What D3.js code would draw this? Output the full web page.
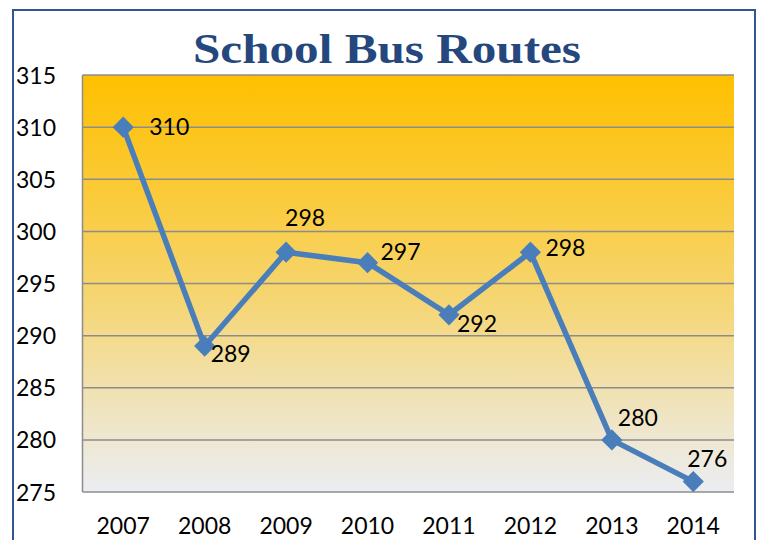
<!DOCTYPE html>
<html>
<head>
<meta charset="utf-8">
<script src="https://cdn.jsdelivr.net/npm/d3@7"></script>
<style>
  html, body { margin: 0; padding: 0; background: #fff; }
  svg { display: block; }
</style>
</head>
<body>
<div id="chart"></div>
<script>
// School bus routes per year.
const years = ['2007', '2008', '2009', '2010', '2011', '2012', '2013', '2014'];
const routes = [310, 289, 298, 297, 292, 298, 280, 276];
const yTicks = [275, 280, 285, 290, 295, 300, 305, 310, 315];

(function(){
  const width = 758, height = 540;
  const margin = {top: 75, right: 24, bottom: 48, left: 82.5};

  // Hand-tuned nudges for the value labels (start of text, vertical centre).
  const labelNudge = [[26, 0], [6, 8], [-1, -34], [13, -11], [8, 9], [15, -4], [6, -22], [-6, -23]];

  const svg = d3.select('#chart').append('svg')
    .attr('width', width).attr('height', height);

  // Gradient fill for the plot area, orange at the top fading to grey.
  const grad = svg.append('defs').append('linearGradient')
    .attr('id', 'plotFill').attr('x1', 0).attr('y1', 0).attr('x2', 0).attr('y2', 1);
  [[0, '#FFC000'], [0.3, '#FACB3C'], [0.55, '#F5D676'], [0.8, '#F0E4BE'], [1, '#EBEDF3']]
    .forEach(([o, c]) => grad.append('stop').attr('offset', o).attr('stop-color', c));

  // Outer chart border.
  svg.append('rect')
    .attr('x', 13).attr('y', 10).attr('width', 742).attr('height', 540)
    .attr('fill', 'none').attr('stroke', '#2F5597').attr('stroke-width', 2);

  const x = d3.scaleBand().domain(years)
    .range([margin.left, width - margin.right]);
  const y = d3.scaleLinear().domain([275, 315])
    .range([height - margin.bottom, margin.top]);

  const plotW = x.range()[1] - x.range()[0];
  const plotH = y.range()[0] - y.range()[1];

  svg.append('rect')
    .attr('x', margin.left).attr('y', margin.top)
    .attr('width', plotW).attr('height', plotH)
    .attr('fill', 'url(#plotFill)');

  // Horizontal gridlines.
  svg.append('g').selectAll('line').data(yTicks).join('line')
    .attr('x1', margin.left).attr('x2', margin.left + plotW)
    .attr('y1', d => y(d)).attr('y2', d => y(d))
    .attr('stroke', '#8C8C8C').attr('stroke-width', 1.5);

  // Left axis line.
  svg.append('line')
    .attr('x1', margin.left).attr('x2', margin.left)
    .attr('y1', margin.top).attr('y2', y(275))
    .attr('stroke', '#8C8C8C').attr('stroke-width', 1.5);

  const font = 'Lato, "Open Sans", sans-serif';
  const fs = 23;

  // Y tick labels, left-aligned against the border.
  svg.append('g').selectAll('text').data(yTicks).join('text')
    .attr('x', 16).attr('y', d => y(d) + 0.5).attr('dy', '0.35em')
    .attr('font-family', font).attr('font-size', fs).attr('fill', '#000')
    .text(d => d);

  // X tick labels.
  svg.append('g').selectAll('text').data(years).join('text')
    .attr('x', d => x(d) + x.bandwidth() / 2).attr('y', 526).attr('dy', '0.35em')
    .attr('text-anchor', 'middle')
    .attr('font-family', font).attr('font-size', fs).attr('fill', '#000')
    .text(d => d);

  // Title.
  svg.append('text')
    .attr('x', 387).attr('y', 63).attr('text-anchor', 'middle')
    .attr('font-family', '"Liberation Serif", "DejaVu Serif", serif')
    .attr('font-weight', 'bold').attr('font-size', 43)
    .attr('fill', '#24487D')
    .attr('textLength', 388).attr('lengthAdjust', 'spacingAndGlyphs')
    .text('School Bus Routes');

  const pts = years.map((yr, i) => ({yr, v: routes[i], nudge: labelNudge[i]}));
  const cx = d => x(d.yr) + x.bandwidth() / 2;

  svg.append('path').datum(pts)
    .attr('d', d3.line().x(cx).y(d => y(d.v)))
    .attr('fill', 'none').attr('stroke', '#4A7EBB').attr('stroke-width', 5.5)
    .attr('stroke-linejoin', 'round');

  svg.append('g').selectAll('path').data(pts).join('path')
    .attr('transform', d => `translate(${cx(d)},${y(d.v)}) rotate(45)`)
    .attr('d', 'M-7.5,-7.5H7.5V7.5H-7.5Z')
    .attr('fill', '#4A7EBB');

  // Value labels.
  svg.append('g').selectAll('text').data(pts).join('text')
    .attr('x', d => cx(d) + d.nudge[0])
    .attr('y', d => y(d.v) + d.nudge[1])
    .attr('dy', '0.35em')
    .attr('font-family', font).attr('font-size', fs).attr('fill', '#000')
    .text(d => d.v);
})();
</script>
</body>
</html>
